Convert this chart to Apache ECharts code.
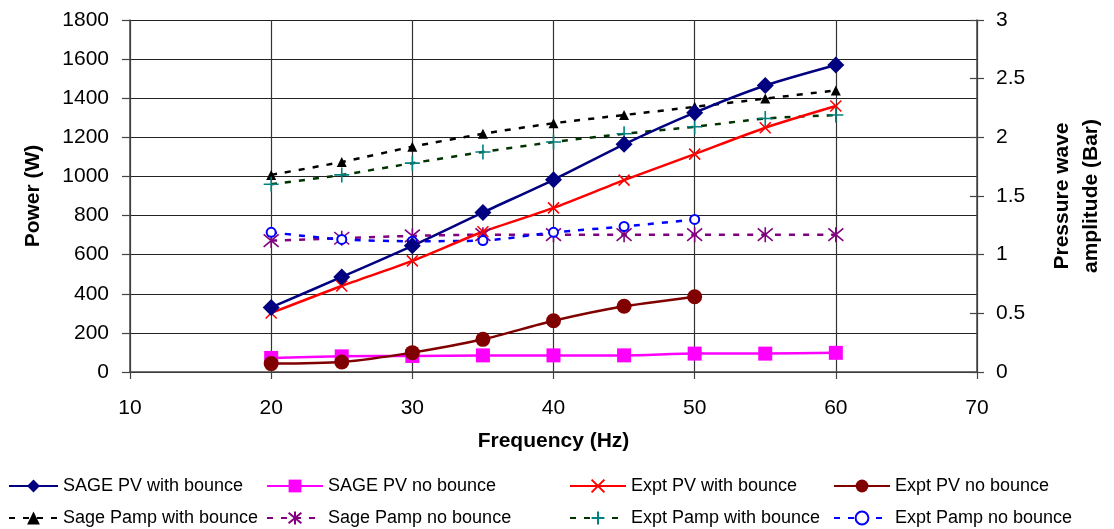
<!DOCTYPE html>
<html>
<head>
<meta charset="utf-8">
<script src="https://cdn.jsdelivr.net/npm/echarts@6/dist/echarts.min.js"></script>
<style>
  html, body { margin: 0; padding: 0; background: #fff; }
  #chart { width: 1114px; height: 529px; }
</style>
</head>
<body>
<div id="chart"></div>
<script>
// Frequency points (Hz)
const freqSage = [20, 25, 30, 35, 40, 45, 50, 55, 60];
const freqExpt = [20, 25, 30, 35, 40, 45, 50];

// Power (W) - left axis
const sagePvBounce   = [330, 486, 645, 816, 983, 1164, 1326, 1465, 1570];
const sagePvNoBounce = [72, 80, 82, 85, 85, 85, 94, 94, 98];
const exptPvBounce   = [302, 440, 568, 717, 839, 981, 1114, 1249, 1360];
const exptPvNoBounce = [43, 51, 99, 167, 262, 336, 385];

// Pressure wave amplitude (Bar) - right axis
const sagePampBounce   = [1.68, 1.79, 1.92, 2.03, 2.12, 2.19, 2.26, 2.33, 2.40];
const sagePampNoBounce = [1.12, 1.14, 1.16, 1.17, 1.17, 1.17, 1.17, 1.17, 1.17];
const exptPampBounce   = [1.60, 1.68, 1.78, 1.875, 1.96, 2.03, 2.09, 2.16, 2.19];
const exptPampNoBounce = [1.19, 1.13, 1.115, 1.12, 1.19, 1.24, 1.30];

const seriesNames = [
  'SAGE PV with bounce', 'SAGE PV no bounce', 'Expt PV with bounce', 'Expt PV no bounce',
  'Sage Pamp with bounce', 'Sage Pamp no bounce', 'Expt Pamp with bounce', 'Expt Pamp no bounce'
];

const FONT = '"Liberation Sans", Arial, sans-serif';
const SYM_CROSS = 'path://M0,0L10,10M10,0L0,10';
const SYM_PLUS = 'path://M5,0L5,10M0,5L10,5';
const SYM_STAR = 'path://M0,0L10,10M10,0L0,10M5,-1L5,11';

function pairs(xs, ys) { return xs.map((x, i) => [x, ys[i]]); }

function solid(name, xs, ys, color, symbol, size, extra) {
  return Object.assign({
    name, type: 'line', yAxisIndex: 0, data: pairs(xs, ys),
    smooth: 0.25, symbol, symbolSize: size,
    lineStyle: { color, width: 2.5 },
    itemStyle: { color },
    emphasis: { disabled: true }
  }, extra || {});
}
function dashed(name, xs, ys, lineColor, markColor, symbol, size, extra) {
  return Object.assign({
    name, type: 'line', yAxisIndex: 1, data: pairs(xs, ys),
    smooth: 0.25, symbol, symbolSize: size,
    lineStyle: { color: lineColor, width: 2.5, type: [6, 8] },
    itemStyle: { color: markColor },
    emphasis: { disabled: true }
  }, extra || {});
}

const series = [
  dashed(seriesNames[4], freqSage, sagePampBounce, '#000000', '#000000', 'triangle', 10),
  dashed(seriesNames[6], freqSage, exptPampBounce, '#003300', '#008080', SYM_PLUS, 15,
    { itemStyle: { color: 'none', borderColor: '#008080', borderWidth: 1.6 } }),
  dashed(seriesNames[5], freqSage, sagePampNoBounce, '#800080', '#800080', SYM_STAR, 15,
    { itemStyle: { color: 'none', borderColor: '#800080', borderWidth: 1.6 } }),
  dashed(seriesNames[7], freqExpt, exptPampNoBounce, '#0000FF', '#0000FF', 'emptyCircle', 9,
    { itemStyle: { color: '#0000FF', borderWidth: 1.6 } }),
  solid(seriesNames[1], freqSage, sagePvNoBounce, '#FF00FF', 'rect', 14),
  solid(seriesNames[3], freqExpt, exptPvNoBounce, '#800000', 'circle', 15),
  solid(seriesNames[2], freqSage, exptPvBounce, '#FF0000', SYM_CROSS, 11,
    { itemStyle: { color: 'none', borderColor: '#FF0000', borderWidth: 1.6 } }),
  solid(seriesNames[0], freqSage, sagePvBounce, '#000080', 'diamond', 17)
];

// Legend: four columns, two rows
const legendCols = [8, 266, 569, 833];
const legendIconW = [49, 56, 56, 56];
const legendRows = [475, 507];
const legends = seriesNames.map((n, i) => ({
  data: [n],
  left: legendCols[i % 4],
  top: legendRows[Math.floor(i / 4)],
  padding: 0,
  itemWidth: legendIconW[i % 4],
  itemHeight: 16,
  itemGap: 5,
  selectedMode: false,
  textStyle: { fontFamily: FONT, fontSize: 18, color: '#000', lineHeight: 22 }
}));

const tickLabel = { fontFamily: FONT, fontSize: 21, color: '#000' };
const titleStyle = { fontFamily: FONT, fontSize: 21, fontWeight: 'bold', color: '#000' };
const plain = v => String(v);

const option = {
  animation: false,
  backgroundColor: '#fff',
  textStyle: { fontFamily: FONT },
  legend: legends,
  grid: { left: 130, right: 133, top: 20, bottom: 157, containLabel: false },
  xAxis: {
    type: 'value', min: 10, max: 70, interval: 10,
    name: 'Frequency (Hz)', nameLocation: 'middle', nameGap: 59,
    nameTextStyle: titleStyle,
    axisLine: { show: true, onZero: false, lineStyle: { color: '#444', width: 1.5 } },
    axisTick: { show: true, length: 7, lineStyle: { color: '#444', width: 1.2 } },
    axisLabel: Object.assign({ margin: 26, formatter: plain }, tickLabel),
    splitLine: { show: true, lineStyle: { color: '#333', width: 1.2 } }
  },
  yAxis: [
    {
      type: 'value', position: 'left', min: 0, max: 1800, interval: 200,
      name: 'Power (W)', nameLocation: 'middle', nameGap: 86, nameRotate: 90,
      nameTextStyle: titleStyle,
      axisLine: { show: true, lineStyle: { color: '#444', width: 1.5 } },
      axisTick: { show: true, length: 8, lineStyle: { color: '#444', width: 1.2 } },
      axisLabel: Object.assign({ margin: 21, formatter: plain }, tickLabel),
      splitLine: { show: true, lineStyle: { color: '#222', width: 1.2 } }
    },
    {
      type: 'value', position: 'right', min: 0, max: 3, interval: 0.5,
      name: 'Pressure wave\namplitude (Bar)', nameLocation: 'middle', nameGap: 71, nameRotate: 90,
      nameTextStyle: Object.assign({ lineHeight: 29 }, titleStyle),
      axisLine: { show: true, lineStyle: { color: '#444', width: 1.5 } },
      axisTick: { show: true, length: 7, lineStyle: { color: '#444', width: 1.2 } },
      axisLabel: Object.assign({ margin: 19, formatter: plain }, tickLabel),
      splitLine: { show: false }
    },
    {
      // inner half of the right-axis cross ticks
      type: 'value', position: 'right', min: 0, max: 3, interval: 0.5,
      axisLine: { show: false },
      axisTick: { show: true, inside: true, length: 7, lineStyle: { color: '#444', width: 1.2 } },
      axisLabel: { show: false },
      splitLine: { show: false }
    }
  ],
  series
};

const chart = echarts.init(document.getElementById('chart'), null, { renderer: 'canvas' });
chart.setOption(option);
</script>
</body>
</html>
